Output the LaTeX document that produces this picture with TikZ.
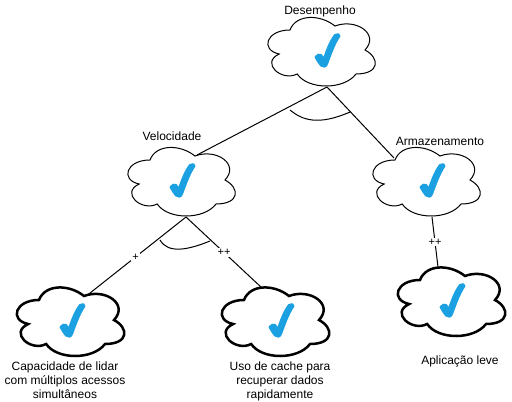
\documentclass[tikz,border=0pt]{standalone}
\usepackage{fontspec}
\setmainfont{Liberation Sans}
\usepackage{tikz}
\usetikzlibrary{positioning}
\definecolor{checkblue}{HTML}{1BA1E2}
\tikzset{
	goalbox/.style={rectangle, inner sep=0, minimum width=108pt, minimum height=74pt},
	goaltext/.style={inner sep=0, align=center, font=\fontsize{12}{14}\selectfont},
	edgetext/.style={fill=white, inner sep=1pt, font=\fontsize{11}{11}\selectfont},
	checkmark/.style={fill=checkblue, draw=checkblue, line width=2pt, line join=round}
}
\begin{document}
\begin{tikzpicture}[x=1pt, y=-1pt, line width=1pt]
\useasboundingbox (0,0) rectangle (512,402);
% edges first, the clouds cover their ends
\node[goalbox] at(320,50) (desempenho) {};
\node[goalbox] at(180,180) (velocidade) {};
\node[goalbox] at(425,180) (armazenamento) {};
\node[goalbox] at(69,320) (capacidade) {};
\node[goalbox] at(274,320) (cache) {};
\node[goalbox] at(450,300) (aplicacao) {};
\path[draw]
	([shift={(7,37)}]desempenho.center) edge ([shift={(17,-25)}]velocidade.center)
	([shift={(7,37)}]desempenho.center) edge ([shift={(-31,-22)}]armazenamento.center)
	([shift={(6,37)}]velocidade.center) edge node[edgetext, pos=0.5] {+} ([shift={(16,-23)}]capacidade.center)
	([shift={(6,37)}]velocidade.center) edge node[edgetext, pos=0.5] {++} ([shift={(-12,-32)}]cache.center)
	([shift={(7,37)}]armazenamento.center) edge node[edgetext, pos=0.5] {++} ([shift={(-12,-33)}]aplicacao.center);
\draw ([shift={(-30,60)}]desempenho.center) .. controls +(12,10) and +(-32,14) .. ([shift={(30,62)}]desempenho.center);
\draw ([shift={(-20,60)}]velocidade.center) .. controls +(8,14) and +(-22,9) .. ([shift={(30,61)}]velocidade.center);
\foreach \n/\w/\d in {desempenho/1pt/1,velocidade/1pt/-4,armazenamento/1pt/1,capacidade/2.5pt/-3,cache/2.5pt/1,aplicacao/2.5pt/-4} {
	\begin{scope}[shift={(\n.center)}]
		\draw[fill=white, line width=\w] (-30,-20)
			.. controls (-54,-20) and (-60,0) .. (-40.8,4)
			.. controls (-60,12.8) and (-38.4,32) .. (-22.8,24)
			.. controls (-12,40) and (24,40) .. (36,24)
			.. controls (60,24) and (60,8) .. (45,0)
			.. controls (60,-16) and (36,-32) .. (15,-24)
			.. controls (0,-36) and (-24,-36) .. (-30,-20) -- cycle;
		\path[checkmark, xshift=\d pt] (-5.5,7) .. controls (-4,4.5) and (-1,4) .. (0,5)
			-- (3,9) .. controls (6,-1) and (10,-10) .. (14,-15)
			.. controls (16,-16.5) and (19,-16) .. (18.5,-14)
			.. controls (13,-6) and (9,6) .. (6,14)
			.. controls (5,17) and (2,17.5) .. (0,15.5)
			.. controls (-2,13) and (-4,10) .. (-5.5,7) -- cycle;
	\end{scope}
};
\node[goaltext] at(320,11) (desempenhoText) {Desempenho};
\node[goaltext] at(172,136) (velocidadeText) {Velocidade};
\node[goaltext] at(440,141) (armazenamentoText) {Armazenamento};
\node[goaltext] at(65,380) (capacidadeText) {Capacidade de lidar\\com múltiplos acessos\\simultâneos};
\node[goaltext] at(280,381) (cacheText) {Uso de cache para\\recuperar dados\\rapidamente};
\node[goaltext] at(460,361) (aplicacaoText) {Aplicação leve};
\end{tikzpicture}
\end{document}
